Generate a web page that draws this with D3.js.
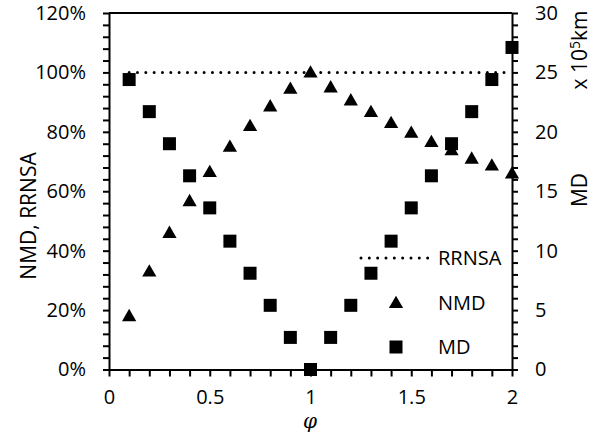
<!DOCTYPE html>
<meta charset="utf-8">
<style>
body { margin: 0; background: #fff; }
text { font-family: "Open Sans", sans-serif; fill: #000; }
.axis path, .axis line { stroke: #000; stroke-width: 2; }
.axis text { font-size: 20px; }
</style>
<svg width="607" height="436"></svg>
<script src="https://d3js.org/d3.v7.min.js"></script>
<script>

var phi = [0.1, 0.2, 0.3, 0.4, 0.5, 0.6, 0.7, 0.8, 0.9, 1.0,
           1.1, 1.2, 1.3, 1.4, 1.5, 1.6, 1.7, 1.8, 1.9, 2.0];
var nmd = [18, 33, 46, 56.7, 66.5, 75, 82, 88.6, 94.5, 100,
           95, 90.6, 86.7, 83, 79.7, 76.6, 73.8, 71, 68.7, 66];
var md = [24.4, 21.7, 19.0, 16.3, 13.6, 10.8, 8.1, 5.4, 2.7, 0,
          2.7, 5.4, 8.1, 10.8, 13.6, 16.3, 19.0, 21.7, 24.4, 27.1];
var rrnsa = phi.map(function() { return 100; });
var xTicks = [0, 0.5, 1, 1.5, 2];
var leftTicks = [0, 20, 40, 60, 80, 100, 120];
var rightTicks = [0, 5, 10, 15, 20, 25, 30];

var svg = d3.select("svg"),
    margin = {top: 13, right: 95, bottom: 66.5, left: 109},
    width = 607 - margin.left - margin.right,
    height = 436 - margin.top - margin.bottom;

var x = d3.scaleLinear().domain([0, 2]).range([0, width]),
    yL = d3.scaleLinear().domain([0, 120]).range([height, 0]),
    yR = d3.scaleLinear().domain([0, 30]).range([height, 0]);

var g = svg.append("g")
    .attr("transform", "translate(" + margin.left + "," + margin.top + ")");

// top border
g.append("line")
    .attr("x1", 0).attr("x2", width)
    .attr("y1", 0).attr("y2", 0)
    .attr("stroke", "#000").attr("stroke-width", 2);

var minorX = d3.range(0, 21).map(function(i) { return i / 10; });
g.append("g")
    .attr("class", "axis")
    .attr("transform", "translate(0," + height + ")")
    .call(d3.axisBottom(x).tickValues(minorX).tickSize(7).tickSizeOuter(0).tickPadding(13)
      .tickFormat(function(d) {
        return xTicks.some(function(t) { return Math.abs(t - d) < 1e-9; }) ? d3.format("")(+d.toFixed(1)) : "";
      }));

var minorL = d3.range(0, 121, 4);
g.append("g")
    .attr("class", "axis")
    .call(d3.axisLeft(yL).tickValues(minorL).tickSize(6).tickSizeOuter(0).tickPadding(17)
      .tickFormat(function(d) { return leftTicks.indexOf(d) >= 0 ? d + "%" : ""; }));

var minorR = d3.range(0, 31, 1);
g.append("g")
    .attr("class", "axis")
    .attr("transform", "translate(" + width + ",0)")
    .call(d3.axisRight(yR).tickValues(minorR).tickSize(6).tickSizeOuter(0).tickPadding(17)
      .tickFormat(function(d) { return rightTicks.indexOf(d) >= 0 ? d : ""; }));

// RRNSA dotted line
var line = d3.line()
    .x(function(d, i) { return x(phi[i]); })
    .y(function(d) { return yL(d); });

g.append("path")
    .datum(rrnsa)
    .attr("d", line)
    .attr("fill", "none")
    .attr("stroke", "#000")
    .attr("stroke-width", 3)
    .attr("stroke-linecap", "round")
    .attr("stroke-dasharray", "0 8.33");

var tri = d3.symbol().type(d3.symbolTriangle).size(88);
var sq = d3.symbol().type(d3.symbolSquare).size(169);

g.selectAll(".nmd")
    .data(nmd)
    .enter().append("path")
      .attr("class", "nmd")
      .attr("d", tri)
      .attr("transform", function(d, i) { return "translate(" + x(phi[i]) + "," + (yL(d) + 1) + ")"; });

g.selectAll(".md")
    .data(md)
    .enter().append("path")
      .attr("class", "md")
      .attr("d", sq)
      .attr("transform", function(d, i) { return "translate(" + x(phi[i]) + "," + yR(d) + ")"; });

// axis titles
svg.append("text")
    .attr("transform", "translate(36,216) rotate(-90)")
    .attr("text-anchor", "middle")
    .style("font-size", "21px")
    .text("NMD, RRNSA");

svg.append("text")
    .attr("transform", "translate(587,190) rotate(-90)")
    .attr("text-anchor", "middle")
    .style("font-size", "21px")
    .text("MD");

var unit = svg.append("text")
    .attr("transform", "translate(587,50) rotate(-90)")
    .attr("text-anchor", "middle")
    .style("font-size", "21px");
unit.append("tspan").text("x 10");
unit.append("tspan").attr("dy", -7).style("font-size", "14px").text("5");
unit.append("tspan").attr("dy", 7).text("km");

svg.append("text")
    .attr("x", 310).attr("y", 428)
    .attr("text-anchor", "middle")
    .style("font-size", "20px")
    .style("font-style", "italic")
    .style("font-family", "'DejaVu Serif', serif")
    .text("φ");

// legend
var lg = svg.append("g");
lg.append("line")
    .attr("x1", 361).attr("x2", 430)
    .attr("y1", 258).attr("y2", 258)
    .attr("stroke", "#000").attr("stroke-width", 3)
    .attr("stroke-linecap", "round").attr("stroke-dasharray", "0 8.33");
lg.append("path").attr("d", tri).attr("transform", "translate(396,304)");
lg.append("path").attr("d", sq).attr("transform", "translate(396,347)");
var labels = ["RRNSA", "NMD", "MD"], ly = [258, 303, 347];
lg.selectAll("text.leg")
    .data(labels)
    .enter().append("text")
      .attr("class", "leg")
      .attr("x", 438)
      .attr("y", function(d, i) { return ly[i]; })
      .attr("dy", "0.35em")
      .style("font-size", "20px")
      .text(function(d) { return d; });

</script>
